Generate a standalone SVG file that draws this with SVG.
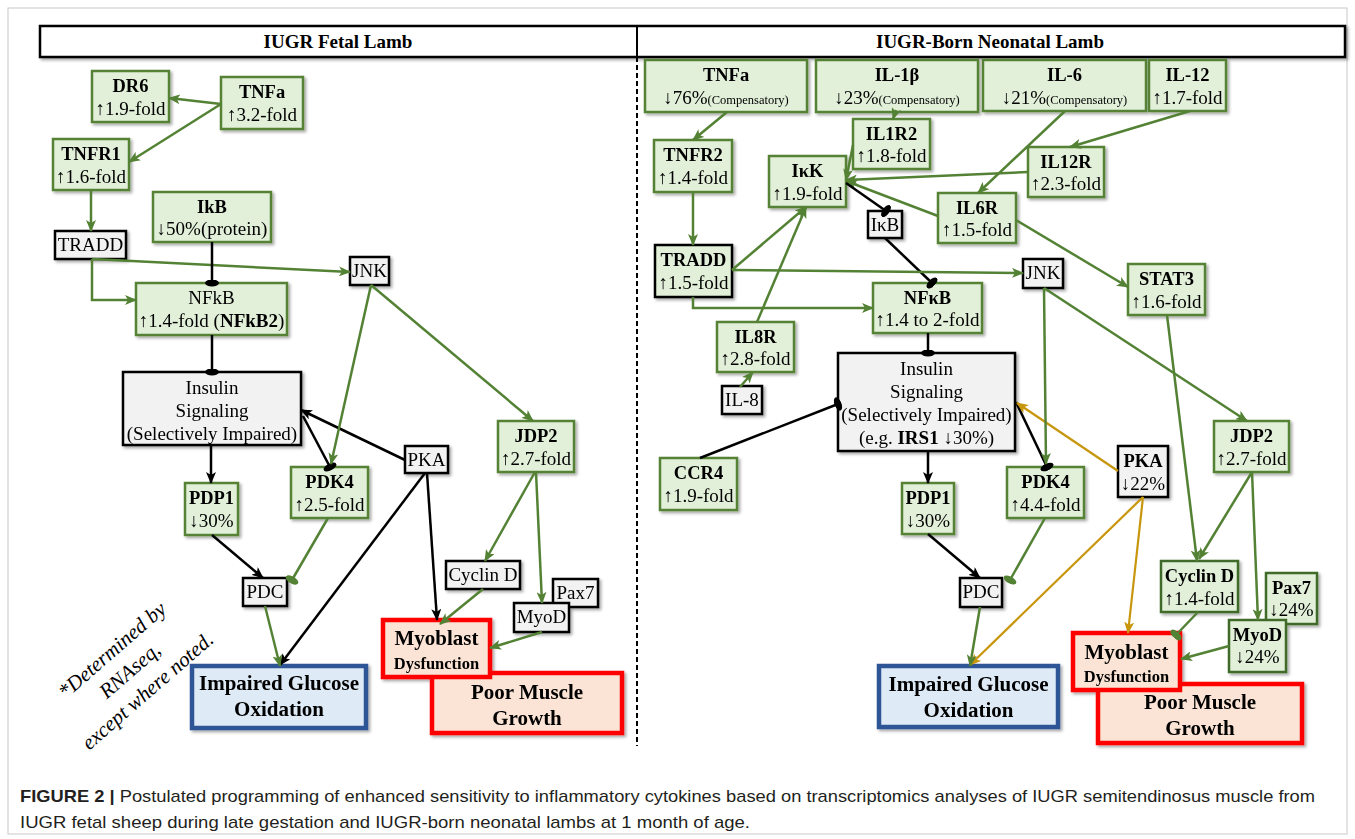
<svg xmlns="http://www.w3.org/2000/svg" width="1355" height="839" viewBox="0 0 1355 839">
<style>
.g{fill:#e2efd9;stroke:#548235;stroke-width:2.5}
.gd{fill:#e2efd9;stroke:#3f6b2a;stroke-width:2.5}
.gk{fill:#e2efd9;stroke:#000;stroke-width:2.5}
.k{fill:#f2f2f2;stroke:#000;stroke-width:2.5}
.r{fill:#fbe4d5;stroke:#ff0000;stroke-width:4.5}
.bl{fill:#deebf7;stroke:#2f5496;stroke-width:4.5}
text{font-family:"Liberation Serif","Times New Roman",serif;fill:#000;text-anchor:middle}
.b{font-weight:bold;font-size:18.5px}
.n{font-size:19px}
.s{font-size:12.5px}
.big{font-weight:bold;font-size:21px}
.dys{font-weight:bold;font-size:16.5px}
.hd{font-weight:bold;font-size:19px}
.lg{stroke:#548235;stroke-width:2.5;fill:none}
.lk{stroke:#000;stroke-width:2.5;fill:none}
.ly{stroke:#c8960c;stroke-width:2.2;fill:none}
.ga{marker-end:url(#ag)}
.ka{marker-end:url(#ak)}
.ya{marker-end:url(#ay)}
.gi{marker-end:url(#ig)}
.ki{marker-end:url(#ik)}
.cap{text-anchor:start;font-family:"Liberation Sans Narrow","Liberation Sans",Arial,sans-serif;font-size:17px;fill:#231f20}
</style>
<defs>
<filter id="sh" x="-10%" y="-10%" width="130%" height="140%">
<feDropShadow dx="2" dy="2" stdDeviation="1.5" flood-color="#000" flood-opacity="0.35"/>
</filter>
<marker id="ag" markerUnits="userSpaceOnUse" markerWidth="12" markerHeight="10" refX="11" refY="5" orient="auto" viewBox="0 0 12 10"><path d="M0,0 L12,5 L0,10 L3,5 z" fill="#548235"/></marker>
<marker id="ak" markerUnits="userSpaceOnUse" markerWidth="12" markerHeight="10" refX="11" refY="5" orient="auto" viewBox="0 0 12 10"><path d="M0,0 L12,5 L0,10 L3,5 z" fill="#000"/></marker>
<marker id="ay" markerUnits="userSpaceOnUse" markerWidth="12" markerHeight="10" refX="11" refY="5" orient="auto" viewBox="0 0 12 10"><path d="M0,0 L12,5 L0,10 L3,5 z" fill="#c8960c"/></marker>
<marker id="ig" markerUnits="userSpaceOnUse" markerWidth="7" markerHeight="14" refX="3.5" refY="7" orient="auto" viewBox="0 0 7 14"><ellipse cx="3.5" cy="7" rx="3.5" ry="7" fill="#548235"/></marker>
<marker id="ik" markerUnits="userSpaceOnUse" markerWidth="7" markerHeight="14" refX="3.5" refY="7" orient="auto" viewBox="0 0 7 14"><ellipse cx="3.5" cy="7" rx="3.5" ry="7" fill="#000"/></marker>
</defs>
<rect x="0" y="0" width="1355" height="839" fill="#fff"/>
<rect x="8" y="8" width="1339" height="826" fill="none" stroke="#c8c8c8" stroke-width="1"/>

<g id="header">
<rect x="40" y="26" width="1305" height="31" fill="#fff" stroke="#000" stroke-width="2.5" filter="url(#sh)"/>
<line x1="637" y1="26" x2="637" y2="57" stroke="#000" stroke-width="2"/>
<text class="hd" x="338" y="48">IUGR Fetal Lamb</text>
<text class="hd" x="990" y="48">IUGR-Born Neonatal Lamb</text>
</g>
<line id="divider" x1="637" y1="57" x2="637" y2="746" stroke="#000" stroke-width="2" stroke-dasharray="5,3"/>

<g id="left-nodes" filter="url(#sh)">
<g id="L-DR6"><rect class="g" x="92" y="71" width="77" height="51"/><text class="b" x="130.5" y="92">DR6</text><text class="n" x="130.5" y="115">↑1.9-fold</text></g>
<g id="L-TNFa"><rect class="g" x="221" y="77" width="82" height="52"/><text class="b" x="262" y="98">TNFa</text><text class="n" x="262" y="121">↑3.2-fold</text></g>
<g id="L-TNFR1"><rect class="g" x="53" y="139" width="76" height="51"/><text class="b" x="91" y="160">TNFR1</text><text class="n" x="91" y="183">↑1.6-fold</text></g>
<g id="L-IkB"><rect class="g" x="153" y="192" width="118" height="50"/><text class="b" x="212" y="213">IkB</text><text class="n" x="212" y="235">↓50%(protein)</text></g>
<g id="L-TRADD"><rect class="k" x="55" y="231" width="71" height="28"/><text class="n" x="90.5" y="251">TRADD</text></g>
<g id="L-JNK"><rect class="k" x="350" y="257" width="39" height="28"/><text class="n" x="369.5" y="277">JNK</text></g>
<g id="L-NFkB"><rect class="g" x="136" y="283" width="151" height="52"/><text class="n" x="211.5" y="304">NFkB</text><text class="n" x="211.5" y="327">↑1.4-fold (<tspan font-weight="bold">NFkB2</tspan>)</text></g>
<g id="L-Insulin"><rect class="k" x="123" y="372" width="178" height="73"/><text class="n" x="212" y="394">Insulin</text><text class="n" x="212" y="417">Signaling</text><text class="n" x="212" y="440">(Selectively Impaired)</text></g>
<g id="L-PDP1"><rect class="g" x="185" y="483" width="53" height="52"/><text class="b" x="211.5" y="504">PDP1</text><text class="n" x="211.5" y="527">↓30%</text></g>
<g id="L-PDK4"><rect class="g" x="291" y="467" width="77" height="51"/><text class="b" x="329.5" y="488">PDK4</text><text class="n" x="329.5" y="511">↑2.5-fold</text></g>
<g id="L-JDP2"><rect class="g" x="498" y="421" width="76" height="51"/><text class="b" x="536" y="442">JDP2</text><text class="n" x="536" y="465">↑2.7-fold</text></g>
<g id="L-PKA"><rect class="k" x="405" y="446" width="43" height="27"/><text class="n" x="426.5" y="466">PKA</text></g>
<g id="L-PDC"><rect class="k" x="243" y="578" width="44" height="28"/><text class="n" x="265" y="598">PDC</text></g>
<g id="L-CyclinD"><rect class="k" x="446" y="561" width="74" height="28"/><text class="n" x="483" y="581">Cyclin D</text></g>
<g id="L-Pax7"><rect class="k" x="553" y="579" width="45" height="28"/><text class="n" x="575.5" y="599">Pax7</text></g>
<g id="L-MyoD"><rect class="k" x="514" y="603" width="55" height="29"/><text class="n" x="541.5" y="623">MyoD</text></g>
<g id="L-PoorMuscle"><rect class="r" x="432" y="673" width="190" height="60"/><text class="big" x="527" y="699">Poor Muscle</text><text class="big" x="527" y="725">Growth</text></g>
<g id="L-Myoblast"><rect class="r" x="383" y="620" width="107" height="57"/><text class="big" x="436.5" y="645">Myoblast</text><text class="dys" x="436.5" y="669">Dysfunction</text></g>
<g id="L-ImpGluc"><rect class="bl" x="192" y="666" width="174" height="62"/><text class="big" x="279" y="690">Impaired Glucose</text><text class="big" x="279" y="716">Oxidation</text></g>
</g>

<g id="right-nodes" filter="url(#sh)">
<g id="R-TNFa"><rect class="g" x="645" y="60" width="162" height="52"/><text class="b" x="726" y="81">TNFa</text><text class="n" x="726" y="104">↓76%<tspan class="s">(Compensatory)</tspan></text></g>
<g id="R-IL1b"><rect class="g" x="816" y="60" width="162" height="52"/><text class="b" x="897" y="81">IL-1β</text><text class="n" x="897" y="104">↓23%<tspan class="s">(Compensatory)</tspan></text></g>
<g id="R-IL6"><rect class="g" x="983" y="60" width="163" height="51"/><text class="b" x="1064.5" y="81">IL-6</text><text class="n" x="1064.5" y="104">↓21%<tspan class="s">(Compensatory)</tspan></text></g>
<g id="R-IL12"><rect class="g" x="1149" y="60" width="77" height="51"/><text class="b" x="1187.5" y="81">IL-12</text><text class="n" x="1187.5" y="104">↑1.7-fold</text></g>
<g id="R-TNFR2"><rect class="g" x="654" y="140" width="78" height="52"/><text class="b" x="693" y="161">TNFR2</text><text class="n" x="693" y="184">↑1.4-fold</text></g>
<g id="R-IL1R2"><rect class="g" x="853" y="119" width="77" height="50"/><text class="b" x="891.5" y="140">IL1R2</text><text class="n" x="891.5" y="162">↑1.8-fold</text></g>
<g id="R-IkK"><rect class="g" x="769" y="156" width="77" height="51"/><text class="b" x="807.5" y="177">IκK</text><text class="n" x="807.5" y="200">↑1.9-fold</text></g>
<g id="R-IL12R"><rect class="g" x="1028" y="147" width="76" height="50"/><text class="b" x="1066" y="168">IL12R</text><text class="n" x="1066" y="190">↑2.3-fold</text></g>
<g id="R-IL6R"><rect class="g" x="938" y="193" width="78" height="50"/><text class="b" x="977" y="214">IL6R</text><text class="n" x="977" y="236">↑1.5-fold</text></g>
<g id="R-IkB"><rect class="k" x="868" y="211" width="34" height="27"/><text class="n" x="885" y="231">IκB</text></g>
<g id="R-TRADD"><rect class="gk" x="655" y="245" width="77" height="52"/><text class="b" x="693.5" y="266">TRADD</text><text class="n" x="693.5" y="289">↑1.5-fold</text></g>
<g id="R-JNK"><rect class="k" x="1023" y="259" width="40" height="29"/><text class="n" x="1043" y="279">JNK</text></g>
<g id="R-STAT3"><rect class="g" x="1128" y="264" width="77" height="51"/><text class="b" x="1166.5" y="285">STAT3</text><text class="n" x="1166.5" y="308">↑1.6-fold</text></g>
<g id="R-NFkB"><rect class="g" x="873" y="283" width="109" height="50"/><text class="b" x="927.5" y="304">NFκB</text><text class="n" x="927.5" y="326">↑1.4 to 2-fold</text></g>
<g id="R-IL8R"><rect class="g" x="717" y="322" width="77" height="50"/><text class="b" x="755.5" y="343">IL8R</text><text class="n" x="755.5" y="365">↑2.8-fold</text></g>
<g id="R-IL8"><rect class="k" x="722" y="386" width="40" height="28"/><text class="n" x="742" y="406">IL-8</text></g>
<g id="R-Insulin"><rect class="k" x="838" y="353" width="177" height="98"/><text class="n" x="926.5" y="375">Insulin</text><text class="n" x="926.5" y="398">Signaling</text><text class="n" x="926.5" y="421">(Selectively Impaired)</text><text class="n" x="926.5" y="444">(e.g. <tspan font-weight="bold">IRS1</tspan> ↓30%)</text></g>
<g id="R-CCR4"><rect class="g" x="660" y="458" width="77" height="52"/><text class="b" x="698.5" y="479">CCR4</text><text class="n" x="698.5" y="502">↑1.9-fold</text></g>
<g id="R-PDP1"><rect class="g" x="902" y="483" width="52" height="51"/><text class="b" x="928" y="504">PDP1</text><text class="n" x="928" y="527">↓30%</text></g>
<g id="R-PDK4"><rect class="g" x="1007" y="467" width="77" height="51"/><text class="b" x="1045.5" y="488">PDK4</text><text class="n" x="1045.5" y="511">↑4.4-fold</text></g>
<g id="R-PKA"><rect class="k" x="1118" y="446" width="50" height="51"/><text class="b" x="1143" y="467">PKA</text><text class="n" x="1143" y="490">↓22%</text></g>
<g id="R-JDP2"><rect class="g" x="1214" y="421" width="75" height="51"/><text class="b" x="1251.5" y="442">JDP2</text><text class="n" x="1251.5" y="465">↑2.7-fold</text></g>
<g id="R-PDC"><rect class="k" x="960" y="578" width="42" height="29"/><text class="n" x="981" y="598">PDC</text></g>
<g id="R-CyclinD"><rect class="gd" x="1161" y="561" width="77" height="51"/><text class="b" x="1199.5" y="582">Cyclin D</text><text class="n" x="1199.5" y="605">↑1.4-fold</text></g>
<g id="R-Pax7"><rect class="gd" x="1266" y="573" width="51" height="51"/><text class="b" x="1291.5" y="594">Pax7</text><text class="n" x="1291.5" y="616">↓24%</text></g>
<g id="R-MyoD"><rect class="gd" x="1229" y="620" width="57" height="52"/><text class="b" x="1257.5" y="641">MyoD</text><text class="n" x="1257.5" y="663">↓24%</text></g>
<g id="R-PoorMuscle"><rect class="r" x="1098" y="684" width="204" height="59"/><text class="big" x="1200" y="709">Poor Muscle</text><text class="big" x="1200" y="735">Growth</text></g>
<g id="R-Myoblast"><rect class="r" x="1073" y="633" width="107" height="57"/><text class="big" x="1126.5" y="659">Myoblast</text><text class="dys" x="1126.5" y="682">Dysfunction</text></g>
<g id="R-ImpGluc"><rect class="bl" x="879" y="666" width="179" height="61"/><text class="big" x="968.5" y="691">Impaired Glucose</text><text class="big" x="968.5" y="717">Oxidation</text></g>
</g>

<g id="connectors">
<path class="lg ga" d="M221,104 L169,98"/>
<path class="lg ga" d="M221,104 L129,162"/>
<path class="lg ga" d="M91,190 L91,231"/>
<path class="lg ga" d="M92,259 L350,272"/>
<path class="lg ga" d="M92,259 L92,300 L136,300"/>
<path class="lk ki" d="M212,242 L212,283"/>
<path class="lk ki" d="M212,335 L212,372"/>
<path class="lk ka" d="M211,445 L211,483"/>
<path class="lk ka" d="M405,460 L301,410"/>
<path class="lk ki" d="M303,416 L330,467"/>
<path class="lg ga" d="M371,285 L331,464"/>
<path class="lg ga" d="M371,285 L533,421"/>
<path class="lk ka" d="M425,473 L280,665"/>
<path class="lk ka" d="M427,473 L437,620"/>
<path class="lg ga" d="M535,472 L485,561"/>
<path class="lg ga" d="M536,472 L542,603"/>
<path class="lg ga" d="M483,589 L440,624"/>
<path class="lg ga" d="M542,632 L490,648"/>
<path class="lk ka" d="M212,535 L263,578"/>
<path class="lg gi" d="M328,518 L292,580"/>
<path class="lg ga" d="M265,606 L280,666"/>
<path class="lg ga" d="M727,112 L693,140"/>
<path class="lg ga" d="M693,192 L693,245"/>
<path class="lg ga" d="M896,110 L893,119"/>
<path class="lg ga" d="M853,145 L846,180"/>
<path class="lg ga" d="M1028,172 L846,180"/>
<path class="lg ga" d="M938,216 L846,181"/>
<path class="lg ga" d="M1065,111 L978,193"/>
<path class="lg ga" d="M1190,111 L1070,147"/>
<path class="lg ga" d="M1016,220 L1128,287"/>
<path class="lk ki" d="M846,183 L886,211"/>
<path class="lk ki" d="M885,238 L932,283"/>
<path class="lg ga" d="M732,270 L806,207"/>
<path class="lg ga" d="M757,322 L806,207"/>
<path class="lg ga" d="M732,270 L1023,273"/>
<path class="lg ga" d="M693,297 L693,308 L873,308"/>
<path class="lg ga" d="M740,387 L753,372"/>
<path class="lk ki" d="M928,333 L928,353"/>
<path class="lk ki" d="M700,458 L838,404"/>
<path class="lk ka" d="M928,451 L928,483"/>
<path class="lk ki" d="M1016,402 L1047,467"/>
<path class="ly ya" d="M1118,471 L1017,403"/>
<path class="lg ga" d="M1044,288 L1046,464"/>
<path class="lg ga" d="M1044,288 L1247,421"/>
<path class="lg ga" d="M1167,315 L1197,561"/>
<path class="lg ga" d="M1252,472 L1199,559"/>
<path class="lg ga" d="M1252,472 L1258,620"/>
<path class="ly ya" d="M1143,497 L970,665"/>
<path class="ly ya" d="M1143,497 L1128,633"/>
<path class="lg gi" d="M1198,612 L1176,635"/>
<path class="lg ga" d="M1229,646 L1181,659"/>
<path class="lk ka" d="M928,534 L980,578"/>
<path class="lg gi" d="M1045,518 L1010,580"/>
<path class="lg ga" d="M980,607 L970,666"/>
</g>

<g id="note" transform="translate(112,650) rotate(-41)">
<text x="0" y="7" font-size="21px" font-style="italic">*Determined by</text>
<text x="0" y="34" font-size="21px" font-style="italic">RNAseq,</text>
<text x="0" y="61" font-size="21px" font-style="italic">except where noted.</text>
</g>

<g id="caption">
<text class="cap" x="20" y="802" textLength="1295" lengthAdjust="spacingAndGlyphs"><tspan font-weight="bold">FIGURE 2 |</tspan> Postulated programming of enhanced sensitivity to inflammatory cytokines based on transcriptomics analyses of IUGR semitendinosus muscle from</text>
<text class="cap" x="20" y="828" textLength="730" lengthAdjust="spacingAndGlyphs">IUGR fetal sheep during late gestation and IUGR-born neonatal lambs at 1 month of age.</text>
</g>
</svg>
